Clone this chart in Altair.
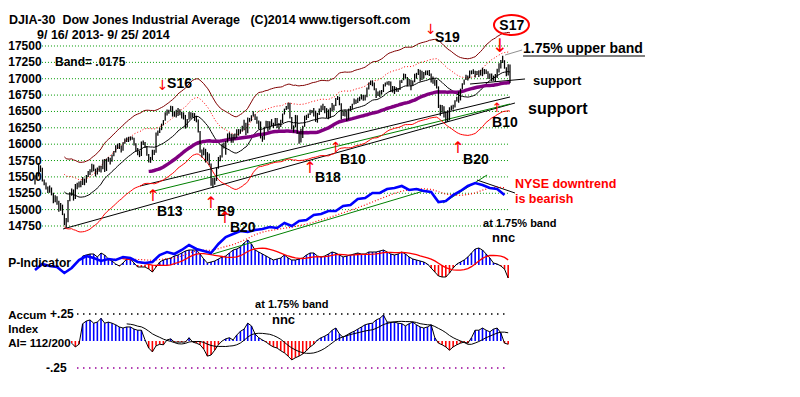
import altair as alt
import pandas as pd

# ---------------- data ----------------
# DJIA daily closes 9/16/2013 .. 9/25/2014 (trading-day index 0..259)
close = [15494, 15529, 15676, 15636, 15451, 15401, 15334, 15273, 15328, 15258, 15129,
         15191, 15133, 14996, 15072, 14936, 14776, 14802, 15126, 15237, 15301, 15168, 15373, 15371, 15399, 15392, 15467, 15413, 15509, 15570, 15568, 15680, 15618, 15546,
         15615, 15639, 15619, 15747, 15593, 15761, 15783, 15751, 15822, 15876, 15962, 15976, 15968, 15901, 16010, 16065, 16073, 16073, 16098, 16086,
         16009, 15915, 15890, 15822, 16020, 16026, 15973, 15844, 15740, 15755, 15885, 15875, 16168, 16179, 16221, 16294, 16358, 16479, 16479, 16505, 16577,
         16441, 16470, 16426, 16531, 16463, 16444, 16437, 16257, 16374, 16482, 16418, 16459, 16415, 16374, 16198, 15880, 15838, 15929, 15739, 15849, 15699,
         15373, 15445, 15441, 15629, 15795, 15801, 15995, 15964, 16027, 16154, 16130, 16040, 16133, 16103, 16208, 16180, 16199, 16273, 16322,
         16168, 16396, 16361, 16422, 16453, 16419, 16351, 16340, 16108, 16066, 16248, 16337, 16223, 16332, 16303, 16277, 16368, 16268, 16264, 16323, 16458,
         16533, 16573, 16573, 16413, 16246, 16257, 16437, 16171, 16027, 16174, 16263, 16425, 16409, 16449, 16515, 16502, 16501, 16361, 16448, 16535, 16581,
         16558, 16513, 16531, 16401, 16518, 16551, 16584, 16695, 16715, 16614, 16447, 16491, 16512, 16375, 16533, 16543, 16606, 16676, 16633, 16698, 16717,
         16743, 16722, 16737, 16836, 16924, 16943, 16945, 16843, 16734, 16776, 16781, 16808, 16906, 16921, 16947, 16937, 16818, 16868, 16846, 16851, 16827,
         16956, 16976, 17068, 17024, 16906, 16985, 16915, 16944, 17055, 17060, 17138, 16977, 17100, 17052, 17114, 17086, 17083, 16961, 16983, 16913, 16881, 16563,
         16493, 16569, 16429, 16443, 16368, 16554, 16570, 16561, 16652, 16713, 16663, 16838, 16919, 16979, 17040, 17001, 17077, 17107, 17123, 17080, 17098,
         17068, 17079, 17069, 17138, 17112, 17014, 17068, 17050, 16988, 17031, 17131, 17157, 17266, 17280, 17173, 17056, 17210, 16946]

# distance from close up to the day's high, and down to the day's low
hi_off = [30, 40, 33, 40, 190, 60, 80, 80, 40, 80, 130,
          30, 70, 140, 30, 140, 165, 70, 20, 30, 20, 140, 20, 40, 30, 50, 30, 60, 20, 20, 50, 20, 70, 80,
          30, 30, 50, 20, 180, 20, 20, 40, 20, 20, 20, 30, 50, 80, 20, 20, 30, 40, 20, 30,
          90, 100, 50, 80, 20, 30, 60, 130, 110, 50, 30, 40, 10, 30, 30, 20, 10, 10, 50, 20, 10,
          140, 30, 100, 20, 70, 50, 50, 190, 10, 10, 70, 20, 60, 60, 180, 320, 80, 20, 190, 30, 160,
          330, 40, 50, 10, 10, 30, 10, 60, 20, 10, 50, 120, 20, 60, 20, 50, 30, 10, 50,
          160, 10, 40, 20, 50, 40, 70, 20, 240, 60, 20, 20, 130, 20, 80, 50, 30, 130, 60, 50, 10,
          10, 10, 60, 220, 170, 30, 10, 270, 160, 60, 20, 10, 40, 20, 10, 20, 50, 150, 30, 10, 10,
          60, 70, 20, 130, 40, 80, 20, 10, 20, 110, 180, 20, 10, 140, 10, 40, 10, 20, 50, 10, 10,
          20, 30, 20, 30, 20, 30, 30, 100, 120, 30, 40, 20, 10, 20, 10, 30, 140, 20, 40, 20, 30,
          20, 10, 10, 50, 120, 10, 70, 30, 20, 30, 10, 160, 20, 50, 10, 40, 50, 120, 50, 80, 100, 320,
          110, 30, 150, 60, 150, 10, 20, 40, 20, 10, 140, 10, 10, 10, 20, 50, 50, 20, 20, 40, 20,
          60, 60, 100, 10, 30, 100, 10, 30, 60, 40, 20, 80, 20, 70, 110, 120, 10, 270]
lo_off = [110, 60, 170, 60, 20, 30, 25, 20, 70, 40, 30,
          80, 60, 30, 90, 20, 15, 80, 320, 110, 90, 30, 210, 60, 60, 50, 90, 40, 100, 70, 40, 110, 30, 40,
          80, 60, 50, 130, 20, 170, 50, 60, 90, 60, 90, 50, 40, 30, 110, 60, 40, 40, 40, 20,
          30, 30, 60, 20, 200, 40, 30, 20, 20, 40, 130, 40, 300, 50, 50, 80, 70, 120, 40, 40, 80,
          20, 50, 20, 100, 20, 50, 60, 20, 120, 110, 30, 50, 60, 40, 20, 10, 40, 100, 20, 110, 20,
          10, 110, 60, 190, 170, 60, 200, 30, 190, 130, 50, 20, 110, 30, 110, 50, 40, 80, 110,
          30, 230, 20, 70, 30, 50, 40, 110, 20, 30, 180, 90, 30, 110, 30, 30, 90, 20, 40, 60, 135,
          80, 50, 40, 20, 20, 80, 180, 10, 20, 150, 170, 160, 40, 50, 70, 30, 80, 20, 120, 90, 90,
          40, 40, 130, 20, 120, 50, 70, 110, 40, 20, 70, 60, 90, 20, 160, 40, 70, 70, 20, 70, 60,
          60, 60, 70, 120, 90, 40, 60, 20, 30, 40, 60, 50, 110, 40, 40, 40, 20, 80, 80, 50, 30,
          130, 40, 90, 20, 20, 80, 90, 50, 110, 60, 80, 20, 120, 50, 60, 30, 40, 20, 60, 20, 30, 10,
          60, 90, 20, 110, 30, 190, 50, 30, 90, 60, 30, 170, 80, 70, 60, 30, 70, 40, 50, 60, 40,
          40, 30, 30, 70, 40, 20, 70, 90, 20, 80, 120, 60, 110, 40, 20, 20, 160, 10]

# NYSE A/D line (arbitrary units), every 4th trading day from day 0
nyse = [2, 8, 6, 5, -1, 4, 12, 16, 14, 11, 13, 12, 15, 14, 10, 9, 10, 17, 20, 18,
        22, 27, 23, 21, 19, 28, 35, 38, 41, 40, 42, 43, 45, 44, 49, 46, 51, 52, 57, 58,
        61, 61, 66, 67, 73, 74, 79, 79, 83, 84, 86, 82, 83, 81, 80, 70, 71, 77, 81, 86,
        89, 87, 84, 83, 77]
nyse_step = 4

# P-Indicator (arbitrary units), every 2nd trading day from day 26
pind = [9, 10, 11, 11, 8, 12, 10, 6, 4, 1, -1, 2, 6, 6, 2, -2, -2, -2, -4, -7,
        -2, 3, 5, 6, 7, 9, 10, 12, 14, 15, 15, 15, 11, 6, 2, 3, 4, 6, 8, 9,
        12, 15, 16, 18, 22, 25, 21, 15, 13, 11, 9, 7, 5, 6, 7, 10, 7, 5, 5, 6,
        7, 10, 12, 12, 9, 8, 9, 11, 13, 12, 10, 8, 9, 10, 11, 12, 11, 11, 13, 13,
        13, 14, 15, 13, 11, 10, 11, 13, 11, 8, 6, 5, 4, 3, 1, -3, -7, -11, -12, -12,
        -8, -3, 1, 3, 5, 8, 12, 16, 17, 15, 11, 7, 2, 1, -1, -4, -13]
pind_start, pind_step = 26, 2

# Accumulation Index, every 2nd trading day from day 20
accum = [-0.02, -0.055, -0.03, 0.16, 0.185, 0.195, 0.165, 0.175, 0.21, 0.165,
         0.175, 0.165, 0.15, 0.13, 0.12, 0.13, 0.13, 0.11, 0.10, 0.10,
         0.01, -0.065, -0.10, -0.045, -0.03, -0.035, 0.01, 0.02, -0.01, -0.01,
         -0.01, -0.01, 0.03, -0.01, -0.02, -0.035, -0.075, -0.14, -0.13, -0.085,
         -0.035, 0.0, 0.02, 0.03, 0.01, 0.055, 0.09, 0.11, 0.165, 0.14,
         0.065, 0.03, 0.01, -0.01, -0.035, -0.055, -0.065, -0.09, -0.11, -0.14,
         -0.175, -0.155, -0.14, -0.12, -0.09, -0.055, -0.03, 0.01, 0.03, 0.045,
         0.065, 0.10, 0.12, 0.065, 0.035, 0.055, 0.075, 0.09, 0.11, 0.13,
         0.15, 0.16, 0.165, 0.195, 0.21, 0.24, 0.175, 0.175, 0.175, 0.165,
         0.16, 0.14, 0.16, 0.175, 0.15, 0.13, 0.12, 0.13, 0.15, 0.03,
         -0.02, -0.035, -0.055, -0.085, -0.055, -0.035, -0.02, -0.01, -0.02, 0.03,
         0.10, 0.10, 0.12, 0.10, 0.085, 0.11, 0.12, 0.075, -0.02, -0.03]
accum_start, accum_step = 20, 2

price_ticks = [17500, 17250, 17000, 16750, 16500, 16250, 16000, 15750, 15500, 15250, 15000, 14750]

assert len(close) == len(hi_off) == len(lo_off), (len(close), len(hi_off), len(lo_off))

# ---------------- scales ----------------
X_DOM = [-14.72, 412.76]
PRICE_DOM = [12259.3, 18080.6]
NYSE_DOM = [-117, 264]
P_DOM = [-124, 257]
AI_DOM = [-0.4444, 3.0833]


def X(field="d"):
    return alt.X(field + ":Q", scale=alt.Scale(domain=X_DOM, nice=False, zero=False), axis=None)


def Y(field, dom):
    return alt.Y(field + ":Q", scale=alt.Scale(domain=dom, nice=False, zero=False), axis=None)


FONT = "Liberation Sans"

# ---------------- tables ----------------
price = pd.DataFrame({
    "d": list(range(len(close))),
    "close": close,
    "high": [c + h for c, h in zip(close, hi_off)],
    "low": [c - l for c, l in zip(close, lo_off)],
})
nyse_df = pd.DataFrame({"d": [i * nyse_step for i in range(len(nyse))], "v": nyse})
p_df = pd.DataFrame({"d": [pind_start + i * pind_step for i in range(len(pind))], "v": pind})
p_df["zero"] = 0
p_df["c"] = ["#0000ff" if v >= 0 else "#ff0000" for v in pind]
ai_df = pd.DataFrame({"d": [accum_start + i * accum_step for i in range(len(accum))], "v": accum})
ai_df["zero"] = 0
ai_df["c"] = ["#0000ff" if v >= 0 else "#ff0000" for v in accum]

grid_price = pd.DataFrame({"y": price_ticks, "d": 3.8, "d2": 258})
grid_ai = pd.DataFrame({"y": [0.25, -0.25], "d": 22.9, "d2": 258, "c": ["#000000", "#990099"]})

trend_price = pd.DataFrame({
    "name": ["A", "A", "B", "B", "G", "G", "S", "S"],
    "d": [15.3, 261.7, 57.3, 259.0, 62.7, 259.0, 237.2, 267.2],
    "y": [14704, 16629, 15361, 16721, 15269, 16614, 16919, 16996],
    "c": ["#000000", "#000000", "#000000", "#000000", "#008000", "#008000", "#000000", "#000000"],
})
trend_nyse = pd.DataFrame({
    "name": ["G1", "G1", "G2", "G2", "K", "K"],
    "d": [97.0, 213.7, 222.5, 246.5, 241.0, 261.7],
    "y": [18, 82, 69, 97, 92, 79],
    "c": ["#008000", "#008000", "#008000", "#008000", "#000000", "#000000"],
})

layers = []

# gridlines
layers.append(alt.Chart(grid_price).mark_rule(color="#009900", strokeDash=[1, 2], strokeWidth=1)
              .encode(x=X(), x2="d2:Q", y=Y("y", PRICE_DOM)))
layers.append(alt.Chart(grid_ai).mark_rule(strokeDash=[1.5, 4.5], strokeWidth=1.5)
              .encode(x=X(), x2="d2:Q", y=Y("y", AI_DOM), color=alt.Color("c:N", scale=None)))

# trend lines
layers.append(alt.Chart(trend_price).mark_line(strokeWidth=1)
              .encode(x=X(), y=Y("y", PRICE_DOM), detail="name:N", color=alt.Color("c:N", scale=None)))

# moving average and bands
base = (alt.Chart(price)
        .transform_window(ma21="mean(close)", frame=[-20, 0], sort=[alt.SortField("d")])
        .transform_window(ma65="mean(close)", frame=[-64, 0], sort=[alt.SortField("d")])
        .transform_calculate(up35="datum.ma21 * 1.035", up175="datum.ma21 * 1.0175",
                             dn35="datum.ma21 * 0.965"))
b21 = base.transform_filter("datum.d >= 16")
layers.append(b21.mark_line(color="#800000", strokeWidth=1).encode(x=X(), y=Y("up35", PRICE_DOM)))
layers.append(b21.mark_line(color="#ff0000", strokeWidth=1, strokeDash=[1, 2]).encode(x=X(), y=Y("up175", PRICE_DOM)))
layers.append(b21.mark_line(color="#ff0000", strokeWidth=1).encode(x=X(), y=Y("dn35", PRICE_DOM)))
layers.append(b21.mark_line(color="#000000", strokeWidth=1).encode(x=X(), y=Y("ma21", PRICE_DOM)))
layers.append(base.transform_filter("datum.d >= 62").mark_line(color="#800080", strokeWidth=3.5)
              .encode(x=X(), y=Y("ma65", PRICE_DOM)))

# price bars
layers.append(alt.Chart(price).mark_rule(color="#000000", strokeWidth=1.25)
              .encode(x=X(), y=Y("low", PRICE_DOM), y2="high:Q"))

# P-Indicator
layers.append(alt.Chart(p_df).mark_rule(strokeWidth=1.6)
              .encode(x=X(), y=Y("v", P_DOM), y2="zero:Q", color=alt.Color("c:N", scale=None)))
layers.append(alt.Chart(p_df).mark_line(color="#000000", strokeWidth=1).encode(x=X(), y=Y("v", P_DOM)))
layers.append(alt.Chart(p_df).transform_window(m="mean(v)", frame=[-9, 0], sort=[alt.SortField("d")])
              .transform_filter("datum.d >= 46")
              .mark_line(color="#ff0000", strokeWidth=1.3).encode(x=X(), y=Y("m", P_DOM)))

# NYSE A/D line
layers.append(alt.Chart(trend_nyse).mark_line(strokeWidth=1)
              .encode(x=X(), y=Y("y", NYSE_DOM), detail="name:N", color=alt.Color("c:N", scale=None)))
layers.append(alt.Chart(nyse_df).transform_window(m="mean(v)", frame=[-5, 0], sort=[alt.SortField("d")])
              .transform_filter("datum.d >= 40")
              .mark_line(color="#ff0000", strokeWidth=1.2, strokeDash=[1, 2]).encode(x=X(), y=Y("m", NYSE_DOM)))
layers.append(alt.Chart(nyse_df).mark_line(color="#0000ff", strokeWidth=2.6).encode(x=X(), y=Y("v", NYSE_DOM)))

# Accumulation index
layers.append(alt.Chart(ai_df).mark_rule(strokeWidth=1.6)
              .encode(x=X(), y=Y("v", AI_DOM), y2="zero:Q", color=alt.Color("c:N", scale=None)))
layers.append(alt.Chart(ai_df).mark_line(color="#000000", strokeWidth=1).encode(x=X(), y=Y("v", AI_DOM)))
layers.append(alt.Chart(ai_df).transform_window(m="mean(v)", frame=[-9, 0], sort=[alt.SortField("d")])
              .transform_filter("datum.d >= 50")
              .mark_line(color="#000000", strokeWidth=1).encode(x=X(), y=Y("m", AI_DOM)))

# ---------------- annotations ----------------
NB = "\u00a0"
lab_price = pd.DataFrame([
    ("DJIA-30" + NB * 2 + "Dow Jones Industrial Average" + NB * 3 + "(C)2014 www.tigersoft.com", -14.2, 17897, 12.5, "#000000"),
    ("9/ 16/ 2013- 9/ 25/ 2014", 1.1, 17675, 12.5, "#000000"),
    ("Band= .0175", 10.9, 17255, 12, "#000000"),
    ("S16", 72.0, 16919, 14, "#000000"),
    ("S19", 218.1, 17622, 14, "#000000"),
    ("S17", 253.2, 17806, 14, "#000000"),
    ("1.75% upper band", 266.1, 17454, 14, "#000000"),
    ("support", 271.5, 16965, 13, "#000000"),
    ("support", 268.8, 16537, 16, "#000000"),
    ("B10", 249.2, 16324, 14, "#000000"),
    ("B20", 233.4, 15758, 14, "#000000"),
    ("B10", 166.3, 15758, 14, "#000000"),
    ("B18", 152.7, 15483, 14, "#000000"),
    ("B13", 66.5, 14964, 14, "#000000"),
    ("B9", 99.2, 14964, 14, "#000000"),
    ("B20", 106.3, 14719, 14, "#000000"),
] + [(str(t), -14.6, t, 12, "#000000") for t in price_ticks], columns=["t", "d", "y", "s", "c"])

lab_nyse = pd.DataFrame([
    ("NYSE downtrend", 261.7, 88, 12.5, "#ff0000"),
    ("is bearish", 261.7, 73, 12.5, "#ff0000"),
    ("at 1.75% band", 244.3, 48, 11, "#000000"),
    ("nnc", 249.2, 34, 13, "#000000"),
], columns=["t", "d", "y", "s", "c"])

lab_p = pd.DataFrame([("P-Indicator", -14.6, 2, 12, "#000000")], columns=["t", "d", "y", "s", "c"])

lab_ai = pd.DataFrame([
    ("Accum", -14.6, 0.2315, 11.5, "#000000"),
    ("Index", -14.6, 0.102, 11.5, "#000000"),
    ("AI= 112/200", -14.6, -0.028, 11.5, "#000000"),
    ("+.25", 8.2, 0.25, 12, "#000000"),
    ("-.25", 6.0, -0.25, 12, "#000000"),
    ("at 1.75% band", 120.0, 0.333, 11, "#000000"),
    ("nnc", 129.2, 0.194, 13, "#000000"),
], columns=["t", "d", "y", "s", "c"])

for df, dom in [(lab_price, PRICE_DOM), (lab_nyse, NYSE_DOM), (lab_p, P_DOM), (lab_ai, AI_DOM)]:
    layers.append(alt.Chart(df).mark_text(align="left", baseline="middle", font=FONT, fontWeight="bold")
                  .encode(x=X(), y=Y("y", dom), text="t:N",
                          size=alt.Size("s:Q", scale=None), color=alt.Color("c:N", scale=None)))

arrows = pd.DataFrame([
    ("\u2193", 69.6, 16889, 14), ("\u2193", 215.9, 17744, 14), ("\u2193", 253.5, 17500, 19),
    ("\u2191", 251.9, 16553, 13), ("\u2191", 230.6, 15942, 16), ("\u2191", 164.1, 15942, 14),
    ("\u2191", 149.9, 15636, 16), ("\u2191", 64.3, 15208, 16), ("\u2191", 96.0, 15101, 16),
    ("\u2191", 103.6, 14872, 16),
], columns=["t", "d", "y", "s"])
layers.append(alt.Chart(arrows).mark_text(align="center", baseline="middle", font="DejaVu Sans", color="#ff0000")
              .encode(x=X(), y=Y("y", PRICE_DOM), text="t:N", size=alt.Size("s:Q", scale=None)))

# ellipse around S17
ELLIPSE = "M -1 0 A 1 0.57 0 1 1 1 0 A 1 0.57 0 1 1 -1 0 Z"
layers.append(alt.Chart(pd.DataFrame({"d": [259.8], "y": [17821]}))
              .mark_point(shape=ELLIPSE, size=1225, filled=False, color="#ff0000", strokeWidth=2, opacity=1)
              .encode(x=X(), y=Y("y", PRICE_DOM)))

# underline and pointer of the "1.75% upper band" note
layers.append(alt.Chart(pd.DataFrame({"d": [266.1], "d2": [332.6], "y": [17347]}))
              .mark_rule(color="#808080", strokeWidth=2)
              .encode(x=X(), x2="d2:Q", y=Y("y", PRICE_DOM)))
layers.append(alt.Chart(pd.DataFrame({"d": [256.3], "d2": [265.6], "y": [17362], "y2": [17439]}))
              .mark_rule(color="#909090", strokeWidth=1)
              .encode(x=X(), x2="d2:Q", y=Y("y", PRICE_DOM), y2="y2:Q"))

chart = (alt.layer(*layers)
         .resolve_scale(y="independent")
         .properties(width=784, height=381, padding=0,
                     autosize=alt.AutoSizeParams(type="none"), background="white")
         .configure_view(stroke=None))

chart.save("out.html", embed_options={"renderer": "svg", "actions": False})
